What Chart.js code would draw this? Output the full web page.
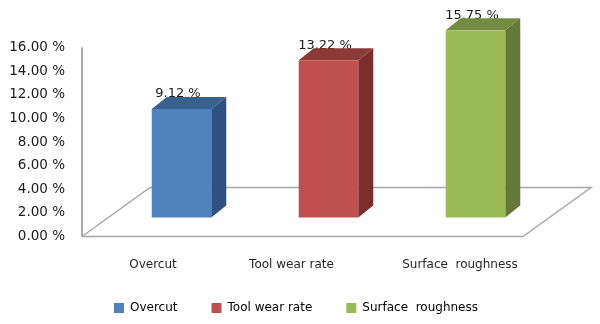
<!DOCTYPE html>
<html>
<head>
<meta charset="utf-8">
<style>
    html, body { margin: 0; padding: 0; background: #fff; }
    #wrap { width: 600px; height: 324px; }
</style>
<script src="https://cdn.jsdelivr.net/npm/chart.js@4"></script>
</head>
<body>
<div id="wrap"><canvas id="errorChart" width="600" height="324"></canvas></div>
<script>
const categories = ['Overcut', 'Tool wear rate', 'Surface  roughness'];
const errorValues = [9.12, 13.22, 15.75];
const frontColors = ['#4F81BD', '#C0504D', '#9BBB59'];
const topColors = ['#3A6090', '#8C3A38', '#738C42'];
const sideColors = ['#2F5180', '#7A2F2E', '#64783A'];
// the labels in the picture are not evenly spaced under the bars
const labelShift = [-28.5, -37, -15.5];

const fontName = '"DejaVu Sans", sans-serif';
const barDepth = { x: 15, y: 12 };
const floorDepth = { x: 68, y: 49 };
const floorInset = 26;

const box3d = {
    id: 'box3d',
    beforeDatasetsDraw(chart) {
        const c = chart.ctx;
        const area = chart.chartArea;
        const left = area.left - floorInset;
        const right = area.right - floorInset;
        const bottom = chart.scales.y.getPixelForValue(0);
        const top = chart.scales.y.getPixelForValue(16);

        // wall and floor
        c.save();
        c.strokeStyle = '#a8a8a8';
        c.lineWidth = 1.5;
        c.beginPath();
        c.moveTo(left, bottom);
        c.lineTo(right, bottom);
        c.lineTo(right + floorDepth.x, bottom - floorDepth.y);
        c.lineTo(left + floorDepth.x, bottom - floorDepth.y);
        c.lineTo(left, bottom);
        c.stroke();
        c.lineWidth = 2;
        c.beginPath();
        c.moveTo(left, bottom);
        c.lineTo(left, top);
        c.stroke();

        // category labels under the floor
        c.fillStyle = '#262626';
        c.font = '12px ' + fontName;
        c.textAlign = 'center';
        c.textBaseline = 'middle';
        categories.forEach((name, i) => {
            c.fillText(name, chart.scales.x.getPixelForTick(i) + labelShift[i], bottom + 28);
        });

        // value labels sit behind the top face of the bars
        const bars = chart.getDatasetMeta(0).data;
        c.font = '13px ' + fontName;
        c.fillStyle = '#1a1a1a';
        bars.forEach((bar, i) => {
            c.fillText(errorValues[i].toFixed(2) + ' %', bar.x - 3.5, bar.y - 15);
        });

        bars.forEach((bar, i) => {
            const x0 = bar.x - bar.width / 2;
            const x1 = bar.x + bar.width / 2;
            c.fillStyle = topColors[i];
            c.beginPath();
            c.moveTo(x0, bar.y);
            c.lineTo(x0 + barDepth.x, bar.y - barDepth.y);
            c.lineTo(x1 + barDepth.x, bar.y - barDepth.y);
            c.lineTo(x1, bar.y);
            c.closePath();
            c.fill();
            c.fillStyle = sideColors[i];
            c.beginPath();
            c.moveTo(x1, bar.y);
            c.lineTo(x1 + barDepth.x, bar.y - barDepth.y);
            c.lineTo(x1 + barDepth.x, bar.base - barDepth.y);
            c.lineTo(x1, bar.base);
            c.closePath();
            c.fill();
        });
        c.restore();
    }
};

new Chart(document.getElementById('errorChart').getContext('2d'), {
    type: 'bar',
    data: {
        labels: categories,
        datasets: [{
            data: errorValues,
            backgroundColor: frontColors,
            yAxisID: 'y1',
            clip: false,
            barPercentage: 1,
            categoryPercentage: 0.405
        }]
    },
    options: {
        responsive: false,
        animation: false,
        layout: { padding: { top: 47.5, right: 8, bottom: 0 } },
        plugins: {
            tooltip: { enabled: false },
            legend: {
                position: 'bottom',
                onClick: null,
                labels: {
                    boxWidth: 10,
                    boxHeight: 10,
                    padding: 34,
                    color: '#262626',
                    font: { family: fontName, size: 12 },
                    generateLabels: () => categories.map((name, i) => ({
                        text: name,
                        fillStyle: frontColors[i],
                        strokeStyle: frontColors[i],
                        lineWidth: 0,
                        index: i
                    }))
                }
            }
        },
        scales: {
            x: {
                grid: { display: false },
                border: { display: false },
                ticks: { display: false },
                afterFit: (scale) => { scale.height = 31.5; }
            },
            y: {
                min: 0,
                max: 16,
                grid: { display: false, drawTicks: false },
                border: { display: false },
                ticks: {
                    stepSize: 2,
                    padding: 43,
                    color: '#1a1a1a',
                    font: { family: fontName, size: 13.5 },
                    callback: (value) => value.toFixed(2) + ' %'
                },
                afterFit: (scale) => {
                    scale.width = 108;
                    scale.paddingTop = 0;
                    scale.paddingBottom = 0;
                }
            },
            // bars stand on the floor, above the front edge of the axis
            y1: {
                position: 'right',
                min: -1.6,
                max: 14.3,
                grid: { display: false },
                border: { display: false },
                ticks: { display: false },
                afterFit: (scale) => { scale.width = 43; }
            }
        }
    },
    plugins: [box3d]
});
</script>
</body>
</html>
